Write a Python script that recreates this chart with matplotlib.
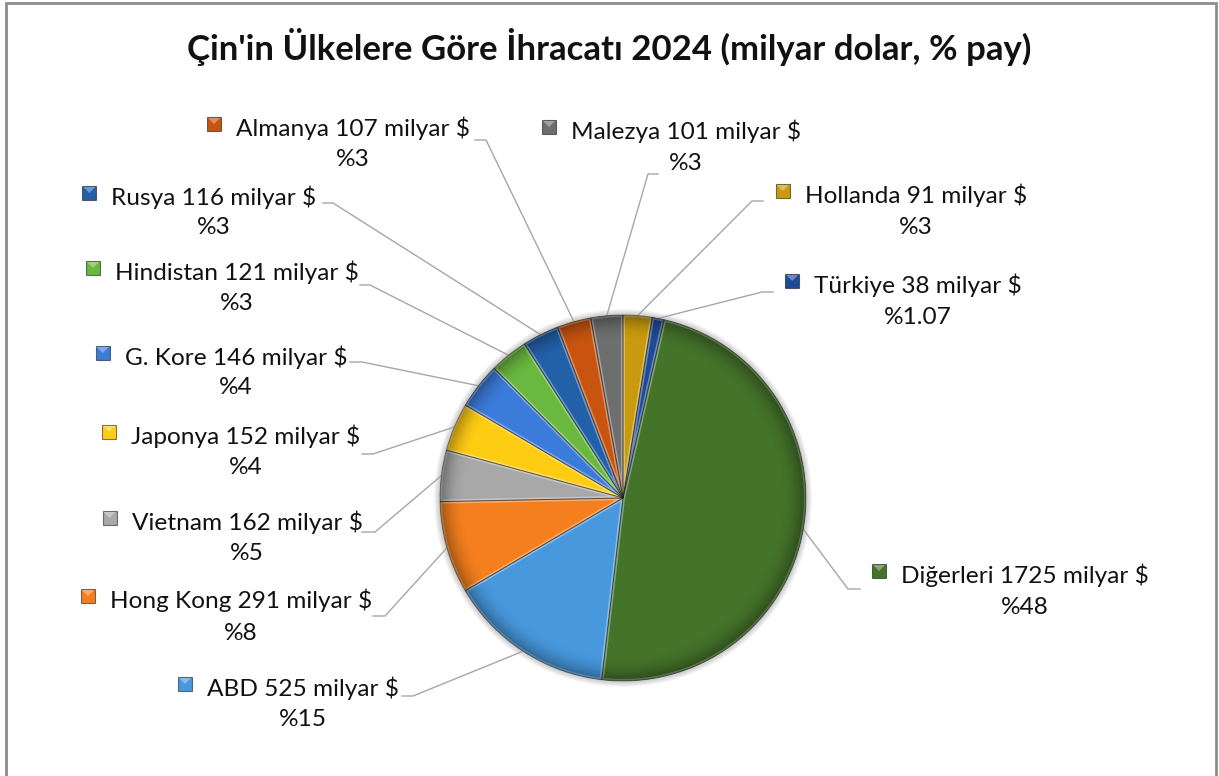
import matplotlib
matplotlib.use('Agg')
import matplotlib.pyplot as plt
from matplotlib.patches import Rectangle, Circle, Wedge, Polygon
from matplotlib.colors import to_rgb
import numpy as np

plt.rcParams['font.family'] = ['Lato', 'DejaVu Sans']

W, H = 1219, 776

baslik = "Çin'in Ülkelere Göre İhracatı 2024 (milyar dolar, % pay)"

ulkeler = ['Hollanda', 'Türkiye', 'Diğerleri', 'ABD', 'Hong Kong', 'Vietnam',
           'Japonya', 'G. Kore', 'Hindistan', 'Rusya', 'Almanya', 'Malezya']
ihracat = [91, 38, 1725, 525, 291, 162, 152, 146, 121, 116, 107, 101]
pay = ['3', '1.07', '48', '15', '8', '5', '4', '4', '3', '3', '3', '3']
renkler = ['#C99A0E', '#1F4A96', '#44732A', '#4898DE', '#F57F1E', '#A8A8A8',
           '#FFCC14', '#3B7BD9', '#69B840', '#2260A8', '#C8540F', '#6E6E6E']

# label placement in pixels from the top-left corner
etiket_x = [916, 918, 1025, 303, 241, 247, 246, 236, 237, 214, 353, 686]
etiket_y1 = [195, 285, 575, 688, 600, 522, 436, 357, 272, 197, 128, 131]
etiket_y2 = [227, 317, 608, 720, 633, 554, 467, 388, 303, 227, 160, 163]
# leader line: diagonal ends at kanca_x, flat bit goes on to kanca_bitis
kanca_x = [752, 762, 848, 413, 385, 375, 373, 362, 370, 333, 486, 648]
kanca_bitis = [763, 773, 860, 402, 373, 362, 362, 350, 360, 323, 475, 658]
kanca_y = [201, 292, 589, 696, 616, 532, 454, 362, 285, 203, 140, 174]

merkez = (623, H - 498)
r = 183


def acik(renk, f):
    c = np.array(to_rgb(renk))
    return tuple(c + (1 - c) * f)


fig = plt.figure(figsize=(W / 100, H / 100), dpi=100)
ax = fig.add_axes([0, 0, 1, 1])

# soft shadow behind the pie
for k in range(1, 7):
    ax.add_patch(Circle(merkez, r + k, color='black', alpha=0.035, lw=0, zorder=1))

wedges, _ = ax.pie(ihracat, colors=renkler, startangle=90, counterclock=False,
                   center=merkez, radius=r,
                   wedgeprops=dict(edgecolor='none', linewidth=0, zorder=2))

# light inner bevel on every slice
for w, renk in zip(wedges, renkler):
    b = Wedge(merkez, r, w.theta1, w.theta2, facecolor='none',
              edgecolor=acik(renk, 0.35), lw=3, zorder=2.5)
    ax.add_patch(b)
    b.set_clip_path(w)
    ax.add_patch(Wedge(merkez, r, w.theta1, w.theta2, facecolor='none',
                       edgecolor=(0, 0, 0, 0.35), lw=0.7, zorder=2.6))

# darker rim
yy, xx = np.mgrid[-1:1:400j, -1:1:400j]
rr = np.hypot(xx, yy)
kenar = np.zeros((400, 400, 4))
kenar[..., 3] = 0.35 * np.clip((rr - 0.86) / 0.14, 0, 1) ** 2
im = ax.imshow(kenar, extent=(merkez[0] - r, merkez[0] + r, merkez[1] - r, merkez[1] + r),
               zorder=3, interpolation='bilinear')
im.set_clip_path(Circle(merkez, r, transform=ax.transData))

metinler = []
for i, w in enumerate(wedges):
    aci = np.deg2rad((w.theta1 + w.theta2) / 2)
    ex = merkez[0] + r * np.cos(aci)
    ey = merkez[1] + r * np.sin(aci)
    ax.plot([ex, kanca_x[i], kanca_bitis[i]], [ey, H - kanca_y[i], H - kanca_y[i]],
            color='#A6A6A6', lw=1.0, zorder=1)
    t = ax.text(etiket_x[i], H - etiket_y1[i], f'{ulkeler[i]} {ihracat[i]} milyar $',
                ha='center', va='center', fontsize=17.6, color='#111111')
    ax.text(etiket_x[i], H - etiket_y2[i], f'%{pay[i]}',
            ha='center', va='center', fontsize=17.6, color='#111111')
    metinler.append(t)

ax.text(609, H - 47, baslik, ha='center', va='center', fontsize=25,
        fontweight='bold', color='#111111')

# chart frame
ax.add_patch(Rectangle((6, -10), 1210, H - 3 + 10, fill=False,
                       edgecolor='#8C8C8C', lw=2))

ax.set_xlim(0, W)
ax.set_ylim(0, H)
ax.axis('off')

# legend keys just left of each label, with a light top facet
fig.canvas.draw()
for i, t in enumerate(metinler):
    bb = t.get_window_extent()
    kx, ky = bb.x0 - 29, H - etiket_y1[i] - 3
    ax.add_patch(Rectangle((kx, ky), 14, 14, facecolor=renkler[i],
                           edgecolor=(0, 0, 0, 0.5), lw=0.8))
    ax.add_patch(Polygon([(kx + 1, ky + 13), (kx + 13, ky + 13), (kx + 7, ky + 7)],
                         closed=True, facecolor=acik(renkler[i], 0.35), edgecolor='none'))

fig.savefig('out.png', dpi=100)
